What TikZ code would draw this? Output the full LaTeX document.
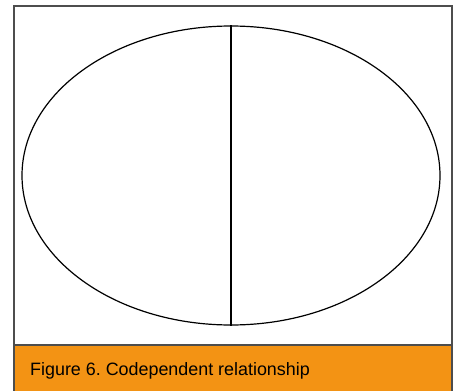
\documentclass[tikz,border=0pt]{standalone}
\usepackage{fontspec}
\setmainfont{Liberation Sans}
\definecolor{CaptionOrange}{HTML}{F39314}
\definecolor{FrameGrey}{HTML}{4D4D4D}
\usetikzlibrary{positioning,shapes.geometric}
\frenchspacing

\begin{document}
\begin{tikzpicture}[x=1pt,y=-1pt]
  \useasboundingbox (0,0) rectangle (456,391);
  % caption band
  \fill[CaptionOrange] (14,345) rectangle (452,391);
  \draw[FrameGrey, line width=2pt] (14,391) -- (14,6) -- (452,6) -- (452,391);
  \draw[FrameGrey, line width=1.5pt] (14,345) -- (452,345);
  \node[black, inner sep=0pt, font=\fontsize{17.9}{19}\selectfont, anchor=base west] (caption) at (30,375)
    {Figure 6. Codependent relationship};
  % the two halves
  \node[draw, ellipse, line width=1.2pt, inner sep=0pt,
    minimum width=418pt, minimum height=299pt] (pair) at (231,175.5) {};
  \draw[line width=1.2pt] (pair.north) -- (pair.south);
\end{tikzpicture}
\end{document}
